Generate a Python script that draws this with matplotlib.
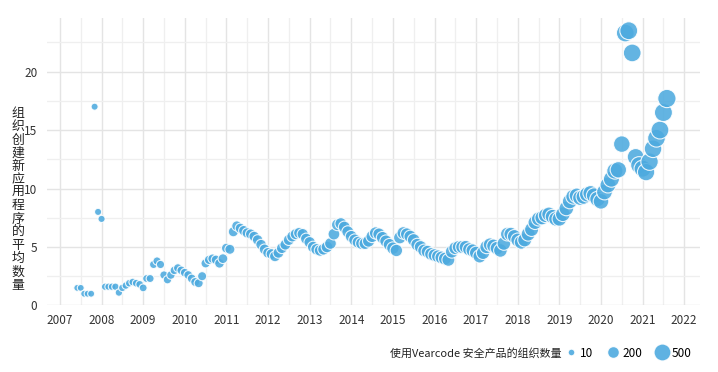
import numpy as np
import pandas as pd
import matplotlib
matplotlib.use("Agg")
import matplotlib.pyplot as plt
from matplotlib.lines import Line2D
from matplotlib.ticker import MultipleLocator

plt.rcParams['font.family'] = ['Noto Sans CJK SC', 'DejaVu Sans']

# monthly averages, Jun 2007 .. Aug 2021
months = pd.date_range('2007-06-01', '2021-08-01', freq='MS')

avg_apps = [
    1.5, 1.5, 1.0, 1.0, 1.0, 17.0, 8.0,                                   # 2007
    7.4, 1.6, 1.6, 1.6, 1.6, 1.1, 1.5, 1.7, 1.9, 2.0, 1.9, 1.8,           # 2008
    1.5, 2.3, 2.3, 3.5, 3.8, 3.5, 2.6, 2.2, 2.6, 3.0, 3.2, 3.0,           # 2009
    2.8, 2.6, 2.3, 2.0, 1.9, 2.5, 3.6, 3.9, 4.0, 3.9, 3.6, 4.0,           # 2010
    4.9, 4.8, 6.3, 6.8, 6.6, 6.4, 6.2, 6.1, 5.9, 5.6, 5.2, 4.8,           # 2011
    4.5, 4.4, 4.2, 4.5, 4.9, 5.2, 5.6, 5.9, 6.1, 6.2, 6.1, 5.7,           # 2012
    5.4, 5.0, 4.8, 4.7, 4.8, 5.0, 5.3, 6.1, 6.9, 7.0, 6.7, 6.3,           # 2013
    5.9, 5.6, 5.4, 5.3, 5.3, 5.5, 5.9, 6.2, 6.1, 5.8, 5.5, 5.2,           # 2014
    4.9, 4.7, 5.8, 6.2, 6.1, 5.9, 5.6, 5.2, 5.0, 4.7, 4.6, 4.4,           # 2015
    4.3, 4.2, 4.1, 4.0, 3.9, 4.6, 4.9, 5.0, 5.0, 5.0, 4.8, 4.7,           # 2016
    4.5, 4.2, 4.5, 5.0, 5.2, 5.1, 4.9, 4.7, 5.3, 6.1, 6.1, 5.9,           # 2017
    5.6, 5.4, 5.6, 6.1, 6.5, 7.1, 7.4, 7.5, 7.7, 7.8, 7.6, 7.4,           # 2018
    7.4, 7.8, 8.3, 8.9, 9.3, 9.4, 9.2, 9.3, 9.5, 9.6, 9.4, 9.1,           # 2019
    8.9, 9.7, 10.3, 10.8, 11.5, 11.6, 13.8, 23.3, 23.5, 21.6, 12.7, 12.0, # 2020
    11.7, 11.4, 12.3, 13.4, 14.3, 15.0, 16.5, 17.7,                       # 2021
]

n_orgs = [
    10, 10, 12, 12, 12, 14, 16,
    18, 20, 20, 22, 22, 24, 26, 28, 30, 32, 34, 36,
    38, 40, 42, 45, 48, 50, 52, 55, 58, 60, 62, 65,
    68, 70, 72, 75, 78, 80, 84, 88, 90, 95, 100, 105,
    110, 115, 118, 120, 122, 125, 128, 130, 132, 135, 138, 140,
    142, 145, 148, 150, 152, 155, 158, 160, 162, 165, 168, 170,
    175, 178, 180, 182, 185, 188, 190, 192, 195, 198, 200, 202,
    205, 205, 208, 210, 210, 212, 215, 215, 218, 220, 220, 222,
    225, 225, 228, 230, 230, 232, 235, 235, 238, 240, 240, 242,
    245, 245, 248, 250, 250, 252, 255, 255, 258, 260, 262, 265,
    268, 270, 272, 275, 278, 280, 282, 285, 288, 290, 292, 295,
    298, 300, 305, 308, 310, 315, 318, 320, 325, 328, 330, 335,
    340, 345, 350, 355, 360, 365, 370, 375, 380, 385, 390, 395,
    400, 410, 420, 430, 440, 450, 460, 540, 550, 540, 480, 490,
    500, 510, 520, 530, 540, 550, 560, 580,
]

legend_counts = [10, 200, 500]
ylabel_text = '组织创建新应用程序的平均数量'
legend_title = '使用Vearcode 安全产品的组织数量'

blue = '#4DAADF'


def marker_area(n):
    return 22 + 0.26 * np.asarray(n)


df = pd.DataFrame({'avg': avg_apps, 'orgs': n_orgs}, index=months)
xs = df.index.year + (df.index.month - 1) / 12.0

fig = plt.figure(figsize=(7.18, 3.72), dpi=100)
ax = fig.add_axes([0.0655, 0.179, 0.9095, 0.773])

ax.scatter(xs, df['avg'], s=marker_area(df['orgs']), color=blue, alpha=0.88,
           edgecolors='white', linewidths=0.8, zorder=3)

ax.set_xlim(2006.69, 2022.38)
ax.set_ylim(0, 24.6)
ax.xaxis.set_major_locator(MultipleLocator(1))
ax.xaxis.set_minor_locator(MultipleLocator(0.5))
ax.yaxis.set_major_locator(MultipleLocator(5))
ax.yaxis.set_minor_locator(MultipleLocator(2.5))
ax.grid(which='major', color='#e4e4e4', linewidth=1.0, zorder=0)
ax.grid(which='minor', color='#efefef', linewidth=0.9, zorder=0)
ax.set_axisbelow(True)
for sp in ax.spines.values():
    sp.set_visible(False)
ax.tick_params(which='both', length=0, labelsize=8.5, labelcolor='#333333')
ax.tick_params(axis='x', pad=6)
ax.tick_params(axis='y', pad=7)

fig.text(0.025, 0.464, '\n'.join(ylabel_text), ha='center', va='center',
         fontsize=9.3, linespacing=1.02, color='#222222')

fig.text(0.543, 0.051, legend_title, ha='left', va='center',
         fontsize=7.9, color='#222222')
handles = [Line2D([], [], linestyle='', marker='o', markersize=np.sqrt(marker_area(c)),
                  markerfacecolor=blue, markeredgecolor='white', alpha=0.9,
                  label=str(c)) for c in legend_counts]
fig.legend(handles=handles, loc='center left', bbox_to_anchor=(0.787, 0.051),
           ncol=3, frameon=False, fontsize=8.5, handlelength=1.0,
           handletextpad=0.3, columnspacing=1.15, borderpad=0, borderaxespad=0)

fig.savefig('out.png', dpi=100)
